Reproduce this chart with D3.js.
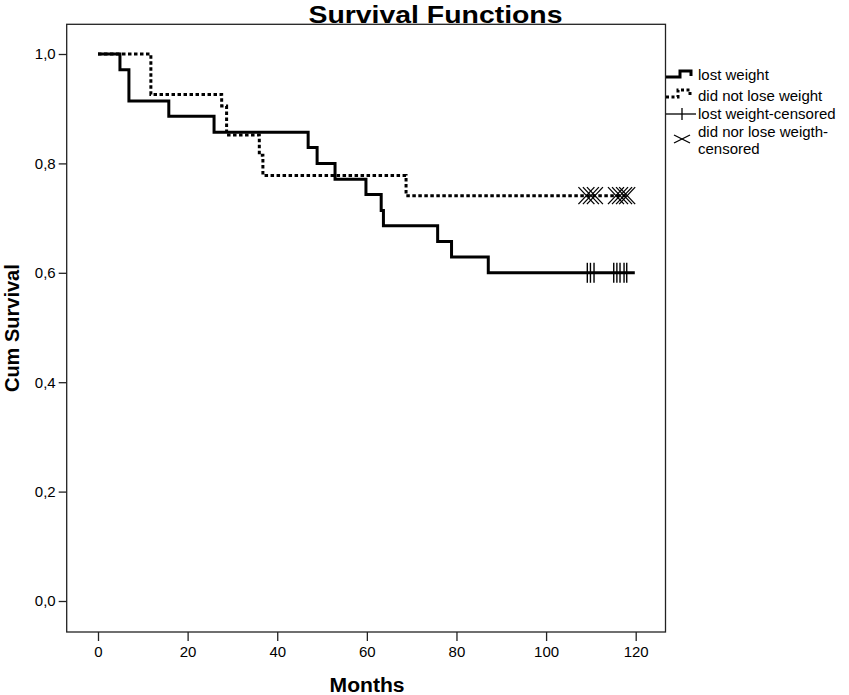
<!DOCTYPE html>
<html>
<head>
<meta charset="utf-8">
<script src="https://cdn.jsdelivr.net/npm/d3@7/dist/d3.min.js"></script>
<style>
  html, body { margin: 0; padding: 0; background: #fff; }
  svg { display: block; }
  text { font-family: "Liberation Sans", Arial, sans-serif; fill: #000; }
</style>
</head>
<body>
<svg id="chart" width="849" height="695"></svg>
<script>
// ---- data ----
const lostTimes = [0, 4.9, 6.9, 15.8, 25.9, 46.9, 48.9, 52.9, 59.8, 63.2, 63.7, 75.8, 78.9, 87.1];
const lostSurv  = [1.0, 0.971, 0.914, 0.886, 0.857, 0.829, 0.800, 0.771, 0.743, 0.714, 0.686, 0.657, 0.629, 0.600];
const lostEnd = 119.8;
const lostCensored = [109.2, 109.9, 110.7, 115.1, 115.8, 116.5, 117.4, 118.0];

const notTimes = [0, 11.8, 27.6, 28.7, 36.0, 36.8, 68.75];
const notSurv  = [1.0, 0.926, 0.905, 0.852, 0.815, 0.778, 0.741];
const notEnd = 118.1;
const notCensored = [109.0, 110.0, 110.9, 115.6, 116.5, 117.4, 118.1];

const xTicks = [0, 20, 40, 60, 80, 100, 120];
const yTicks = [0, 0.2, 0.4, 0.6, 0.8, 1.0];
const legendLabels = ["lost weight", "did not lose weight", "lost weight-censored", ["did nor lose weigth-", "censored"]];
const titleText = "Survival Functions";
const xTitle = "Months";
const yTitle = "Cum Survival";

// ---- layout ----
const svg = d3.select("#chart");
const pLeft = 66.7, pRight = 665.5, pTop = 24.3, pBottom = 632;

const x = d3.scaleLinear().domain([0, 120]).range([98, 635.7]);
const y = d3.scaleLinear().domain([0, 1]).range([601, 54]);

// frame
svg.append("rect")
  .attr("x", pLeft).attr("y", pTop)
  .attr("width", pRight - pLeft).attr("height", pBottom - pTop)
  .attr("fill", "none").attr("stroke", "#222").attr("stroke-width", 1.3);

// axes
const fmt = d3.format(".1f");
const yAxis = d3.axisLeft(y).tickValues(yTicks).tickSize(8).tickPadding(3)
  .tickFormat(d => fmt(d).replace(".", ","));
const gy = svg.append("g").attr("transform", `translate(${pLeft},0)`).call(yAxis);
gy.select(".domain").remove();
gy.selectAll("line").attr("stroke", "#222").attr("stroke-width", 1.3);
gy.selectAll("text").attr("font-size", 15).attr("font-family", "Liberation Sans, Arial, sans-serif");

const xAxis = d3.axisBottom(x).tickValues(xTicks).tickSize(9).tickPadding(5).tickFormat(d3.format("d"));
const gx = svg.append("g").attr("transform", `translate(0,${pBottom})`).call(xAxis);
gx.select(".domain").remove();
gx.selectAll("line").attr("stroke", "#222").attr("stroke-width", 1.3);
gx.selectAll("text").attr("font-size", 15).attr("font-family", "Liberation Sans, Arial, sans-serif");

// titles
svg.append("text").attr("x", 435.5).attr("y", 22.5).attr("text-anchor", "middle")
  .attr("font-size", 24.5).attr("font-weight", "bold")
  .attr("textLength", 254).attr("lengthAdjust", "spacingAndGlyphs").text(titleText);
svg.append("text").attr("x", (pLeft + pRight) / 2 + 1).attr("y", 692).attr("text-anchor", "middle")
  .attr("font-size", 20).attr("font-weight", "bold")
  .attr("textLength", 75).attr("lengthAdjust", "spacingAndGlyphs").text(xTitle);
svg.append("text").attr("transform", `translate(19,${(pTop + pBottom) / 2}) rotate(-90)`)
  .attr("text-anchor", "middle").attr("font-size", 20).attr("font-weight", "bold").text(yTitle);

// step curves
const line = d3.line().x(d => x(d[0])).y(d => y(d[1])).curve(d3.curveStepAfter);
function pts(times, surv, end) {
  const p = times.map((t, i) => [t, surv[i]]);
  p.push([end, surv[surv.length - 1]]);
  return p;
}

const g = svg.append("g");
g.append("path").datum(pts(notTimes, notSurv, notEnd))
  .attr("d", line).attr("fill", "none").attr("stroke", "#000")
  .attr("stroke-width", 3).attr("stroke-dasharray", "3.5,2.5");
g.append("path").datum(pts(lostTimes, lostSurv, lostEnd))
  .attr("d", line).attr("fill", "none").attr("stroke", "#000")
  .attr("stroke-width", 3);

// censored marks: lost weight (vertical ticks)
const lastLost = lostSurv[lostSurv.length - 1];
g.selectAll(".cl").data(lostCensored).enter().append("line")
  .attr("x1", d => x(d)).attr("x2", d => x(d))
  .attr("y1", y(lastLost) - 10).attr("y2", y(lastLost) + 10)
  .attr("stroke", "#000").attr("stroke-width", 1.4);

// censored marks: did not lose weight (X)
const lastNot = notSurv[notSurv.length - 1];
const xs = g.selectAll(".cn").data(notCensored).enter().append("g")
  .attr("transform", d => `translate(${x(d)},${y(lastNot)})`);
xs.append("line").attr("x1", -8).attr("y1", -8.5).attr("x2", 8).attr("y2", 8.5)
  .attr("stroke", "#000").attr("stroke-width", 1.3);
xs.append("line").attr("x1", -8).attr("y1", 8.5).attr("x2", 8).attr("y2", -8.5)
  .attr("stroke", "#000").attr("stroke-width", 1.3);

// legend
const lg = svg.append("g");
const tx = 698;
lg.append("path").attr("d", "M666,77 H680 V71 H691 V76")
  .attr("fill", "none").attr("stroke", "#000").attr("stroke-width", 3);
lg.append("text").attr("x", tx).attr("y", 80).attr("font-size", 15).text(legendLabels[0]);
lg.append("path").attr("d", "M666,97 H678 V90 H690 V97")
  .attr("fill", "none").attr("stroke", "#000").attr("stroke-width", 3).attr("stroke-dasharray", "3,2.5");
lg.append("text").attr("x", tx).attr("y", 101).attr("font-size", 15).text(legendLabels[1]);
lg.append("line").attr("x1", 666).attr("x2", 696).attr("y1", 114).attr("y2", 114)
  .attr("stroke", "#000").attr("stroke-width", 1.3);
lg.append("line").attr("x1", 682).attr("x2", 682).attr("y1", 108).attr("y2", 120)
  .attr("stroke", "#000").attr("stroke-width", 1.3);
lg.append("text").attr("x", tx).attr("y", 119).attr("font-size", 15).text(legendLabels[2]);
lg.append("line").attr("x1", 674).attr("y1", 135).attr("x2", 690).attr("y2", 143)
  .attr("stroke", "#000").attr("stroke-width", 1.3);
lg.append("line").attr("x1", 674).attr("y1", 143).attr("x2", 690).attr("y2", 135)
  .attr("stroke", "#000").attr("stroke-width", 1.3);
lg.append("text").attr("x", tx).attr("y", 137).attr("font-size", 15).text(legendLabels[3][0]);
lg.append("text").attr("x", tx).attr("y", 154).attr("font-size", 15).text(legendLabels[3][1]);
</script>
</body>
</html>
